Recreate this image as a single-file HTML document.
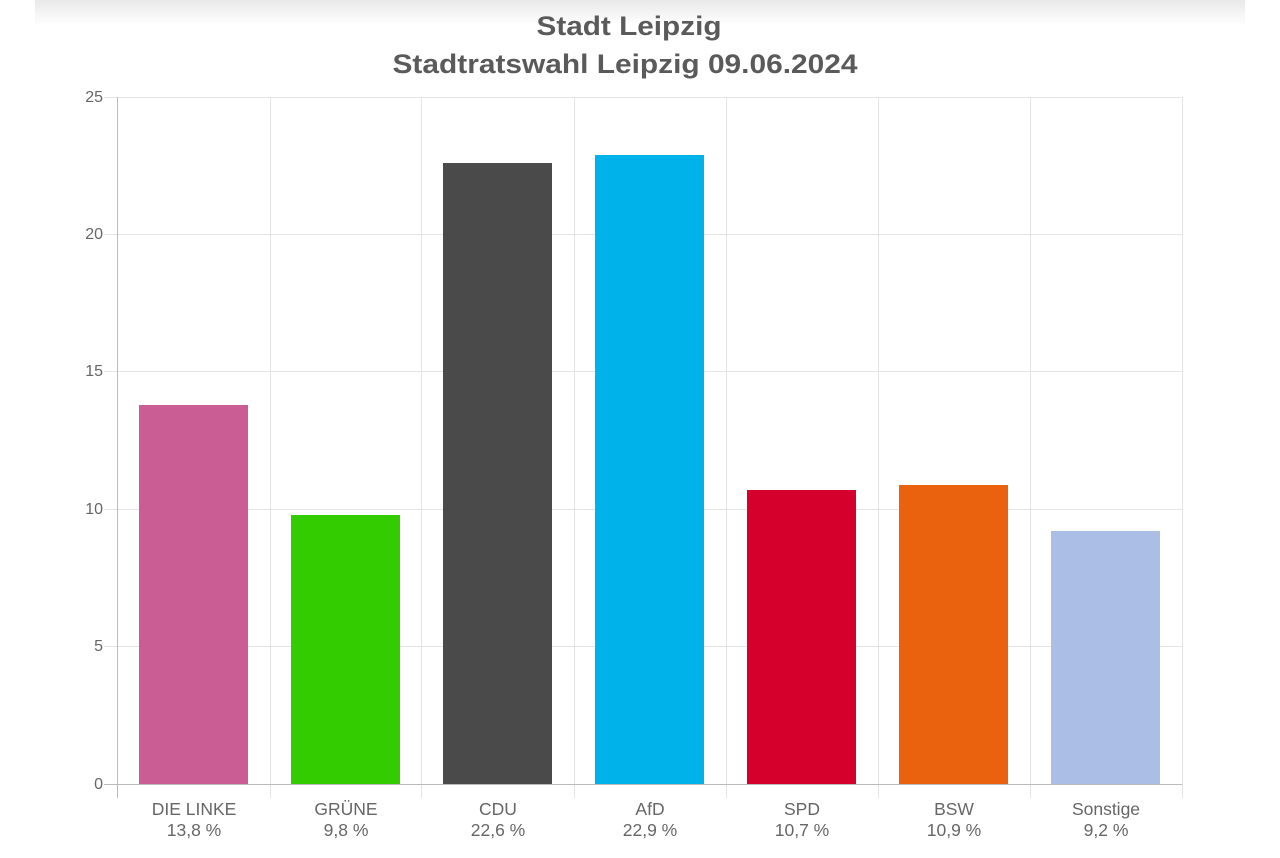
<!DOCTYPE html>
<html><head><meta charset="utf-8"><style>
body{margin:0;width:1280px;height:853px;background:#fff;overflow:hidden;font-family:"Liberation Sans",Arial,sans-serif}
</style></head><body>
<svg width="1280" height="853" xmlns="http://www.w3.org/2000/svg" font-family="Liberation Sans, Arial, sans-serif">
<defs><linearGradient id="g" x1="0" y1="0" x2="0" y2="1"><stop offset="0" stop-color="#e9e9e9"/><stop offset="1" stop-color="#ffffff"/></linearGradient></defs>
<rect x="35" y="0" width="1210" height="26" fill="url(#g)"/>
<text x="629" y="35" text-anchor="middle" font-size="27" font-weight="bold" fill="#5a5a5a" textLength="185" lengthAdjust="spacingAndGlyphs">Stadt Leipzig</text>
<text x="625" y="73" text-anchor="middle" font-size="27" font-weight="bold" fill="#5a5a5a" textLength="465" lengthAdjust="spacingAndGlyphs">Stadtratswahl Leipzig 09.06.2024</text>
<g stroke="#e4e4e4" stroke-width="1">
<line x1="104" y1="97.5" x2="1182" y2="97.5"/>
<line x1="104" y1="234.5" x2="1182" y2="234.5"/>
<line x1="104" y1="371.5" x2="1182" y2="371.5"/>
<line x1="104" y1="509.5" x2="1182" y2="509.5"/>
<line x1="104" y1="646.5" x2="1182" y2="646.5"/>
<line x1="270.5" y1="97" x2="270.5" y2="798"/>
<line x1="421.5" y1="97" x2="421.5" y2="798"/>
<line x1="574.5" y1="97" x2="574.5" y2="798"/>
<line x1="726.5" y1="97" x2="726.5" y2="798"/>
<line x1="878.5" y1="97" x2="878.5" y2="798"/>
<line x1="1030.5" y1="97" x2="1030.5" y2="798"/>
<line x1="1182.5" y1="97" x2="1182.5" y2="798"/>
</g>
<g stroke="#bbb"><line x1="117.5" y1="97" x2="117.5" y2="798"/><line x1="104" y1="784.5" x2="1182" y2="784.5"/></g>
<g font-size="16" fill="#666" text-anchor="end">
<text x="103" y="102">25</text><text x="103" y="239">20</text><text x="103" y="376">15</text><text x="103" y="514">10</text><text x="103" y="651">5</text><text x="103" y="789">0</text>
</g>
<rect x="139" y="405" width="109" height="379" fill="#c95d94"/>
<rect x="291" y="515" width="109" height="269" fill="#33cc00"/>
<rect x="443" y="163" width="109" height="621" fill="#4a4a4a"/>
<rect x="595" y="155" width="109" height="629" fill="#00b2ea"/>
<rect x="747" y="490" width="109" height="294" fill="#d5002b"/>
<rect x="899" y="485" width="109" height="299" fill="#ea620d"/>
<rect x="1051" y="531" width="109" height="253" fill="#abbee6"/>
<g font-size="17.5" fill="#666" text-anchor="middle">
<text x="194" y="815">DIE LINKE</text><text x="194" y="836">13,8 %</text>
<text x="346" y="815">GRÜNE</text><text x="346" y="836">9,8 %</text>
<text x="498" y="815">CDU</text><text x="498" y="836">22,6 %</text>
<text x="650" y="815">AfD</text><text x="650" y="836">22,9 %</text>
<text x="802" y="815">SPD</text><text x="802" y="836">10,7 %</text>
<text x="954" y="815">BSW</text><text x="954" y="836">10,9 %</text>
<text x="1106" y="815">Sonstige</text><text x="1106" y="836">9,2 %</text>
</g>
</svg>
</body></html>
